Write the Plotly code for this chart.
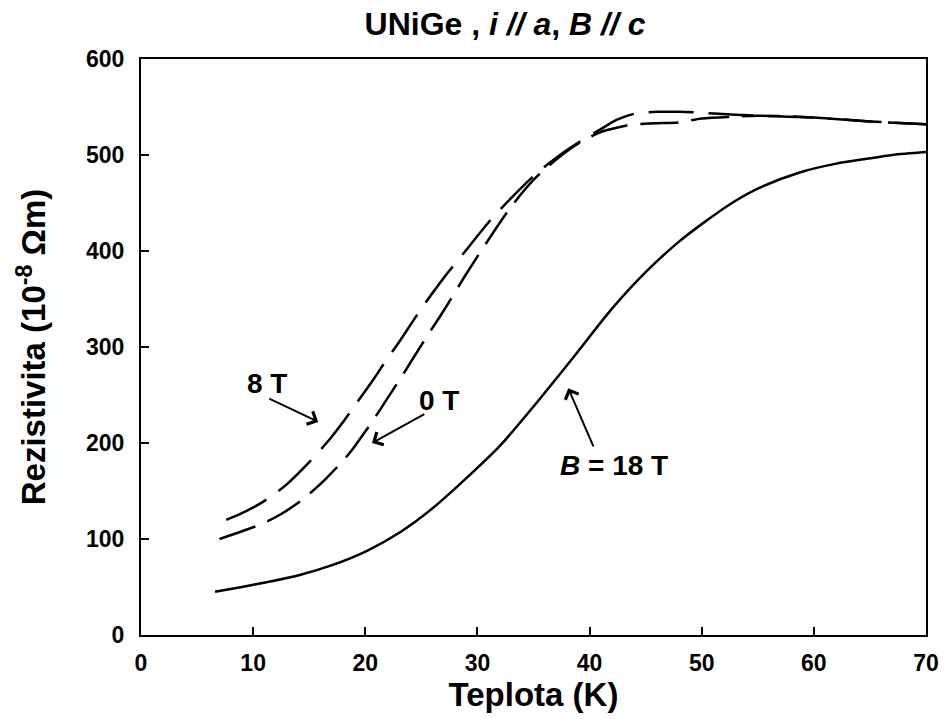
import plotly.graph_objects as go

# B = 18 T (solid)
T18 = [6.6, 9, 11.2, 14, 17.1, 20.2, 23.1, 26, 28.7, 32, 35, 38.4, 42, 45, 48, 50, 52.7, 55, 58.8, 62, 64.7, 67, 70]
R18 = [45, 50, 55, 62, 73, 88, 107, 132, 160, 197, 238, 287, 340, 378, 410, 428, 450, 465, 482, 491, 496, 500, 503]

# 8 T (dashed, upper at low T)
T8 = [7.6, 9, 10.5, 11.8, 13.1, 15, 16.9, 17.9, 19, 20.6, 21.8, 23, 25, 27, 29, 31, 33, 35, 37, 39, 41, 42.5, 44, 46, 48, 50, 53, 55, 60, 65, 70]
R8 = [120, 127, 136, 146, 158, 180, 205, 220, 238, 264, 285, 305, 340, 372, 401, 430, 455, 478, 497, 513, 527, 537, 543, 545, 545, 544, 542, 541, 539, 535, 532]

# 0 T (dashed)
T0 = [7.0, 8.5, 10.2, 11.2, 12.5, 14.3, 15.2, 16.5, 18.2, 18.9, 20, 21, 22, 23.4, 25, 27, 29, 31, 33, 35, 37, 39, 41, 43, 44, 46, 48, 50, 53, 55, 60, 65, 70]
R0 = [100, 106, 113, 118, 126, 140, 149, 163, 184, 194, 212, 229, 247, 272, 302, 338, 376, 412, 446, 474, 495, 512, 524, 530, 532, 533, 534, 538, 540, 541, 539, 535, 532]

x_ticks = [0, 10, 20, 30, 40, 50, 60, 70]
y_ticks = [0, 100, 200, 300, 400, 500, 600]

FONT = "Liberation Sans, Arial, sans-serif"

fig = go.Figure()
fig.add_trace(go.Scatter(x=T18, y=R18, mode="lines", line=dict(color="black", width=2.5, shape="spline", smoothing=0.8), showlegend=False))
fig.add_trace(go.Scatter(x=T8, y=R8, mode="lines", line=dict(color="black", width=2.5, dash="45px,15px", shape="spline", smoothing=0.8), showlegend=False))
fig.add_trace(go.Scatter(x=T0, y=R0, mode="lines", line=dict(color="black", width=2.5, dash="38px,13px", shape="spline", smoothing=0.8), showlegend=False))

ann_font = dict(family=FONT, size=28, color="black")
fig.add_annotation(x=15.8, y=222, ax=11.3, ay=247, axref="x", ayref="y", xref="x", yref="y",
                   showarrow=True, arrowhead=4, arrowsize=1.4, arrowwidth=2, arrowcolor="black", text="")
fig.add_annotation(x=11.2, y=262, text="<b>8 T</b>", showarrow=False, font=ann_font)
fig.add_annotation(x=20.6, y=200, ax=25.4, ay=231, axref="x", ayref="y", xref="x", yref="y",
                   showarrow=True, arrowhead=4, arrowsize=1.4, arrowwidth=2, arrowcolor="black", text="")
fig.add_annotation(x=26.6, y=244, text="<b>0 T</b>", showarrow=False, font=ann_font)
fig.add_annotation(x=38.1, y=257, ax=40.4, ay=195, axref="x", ayref="y", xref="x", yref="y",
                   showarrow=True, arrowhead=4, arrowsize=1.4, arrowwidth=2, arrowcolor="black", text="")
fig.add_annotation(x=42.2, y=177, text="<b><i>B</i> = 18 T</b>", showarrow=False, font=ann_font)

fig.update_layout(
    width=944, height=719, autosize=False,
    margin=dict(l=141, r=18, t=59, b=84),
    paper_bgcolor="white", plot_bgcolor="white",
    font=dict(family=FONT, color="black"),
    title=dict(text="<b>UNiGe , <i>i // a</i>, <i>B // c</i></b>", x=505/944, xanchor="center",
               y=1 - 24/719, yanchor="middle", font=dict(size=32, family=FONT)),
    xaxis=dict(range=[0, 70], tickvals=x_ticks, ticktext=[f"<b>{v}</b>" for v in x_ticks],
               showgrid=False, zeroline=False, showline=True, linecolor="black", linewidth=2, mirror=True,
               ticks="inside", ticklen=8, tickwidth=1.5, tickcolor="black", ticklabelstandoff=6,
               tickfont=dict(size=23, family=FONT), automargin=False,
               title=dict(text="<b>Teplota (K)</b>", font=dict(size=33, family=FONT), standoff=4)),
    yaxis=dict(range=[0, 600], tickvals=y_ticks, ticktext=[f"<b>{v}</b>" for v in y_ticks],
               showgrid=False, zeroline=False, showline=True, linecolor="black", linewidth=2, mirror=True,
               ticks="inside", ticklen=8, tickwidth=1.5, tickcolor="black", ticklabelstandoff=10,
               tickfont=dict(size=23, family=FONT), automargin=False,
               title=dict(text="<b>Rezistivita (10<sup>-8</sup> Ωm)</b>", font=dict(size=33, family=FONT), standoff=30)),
)

fig.write_html("out.html", config={"responsive": False})
